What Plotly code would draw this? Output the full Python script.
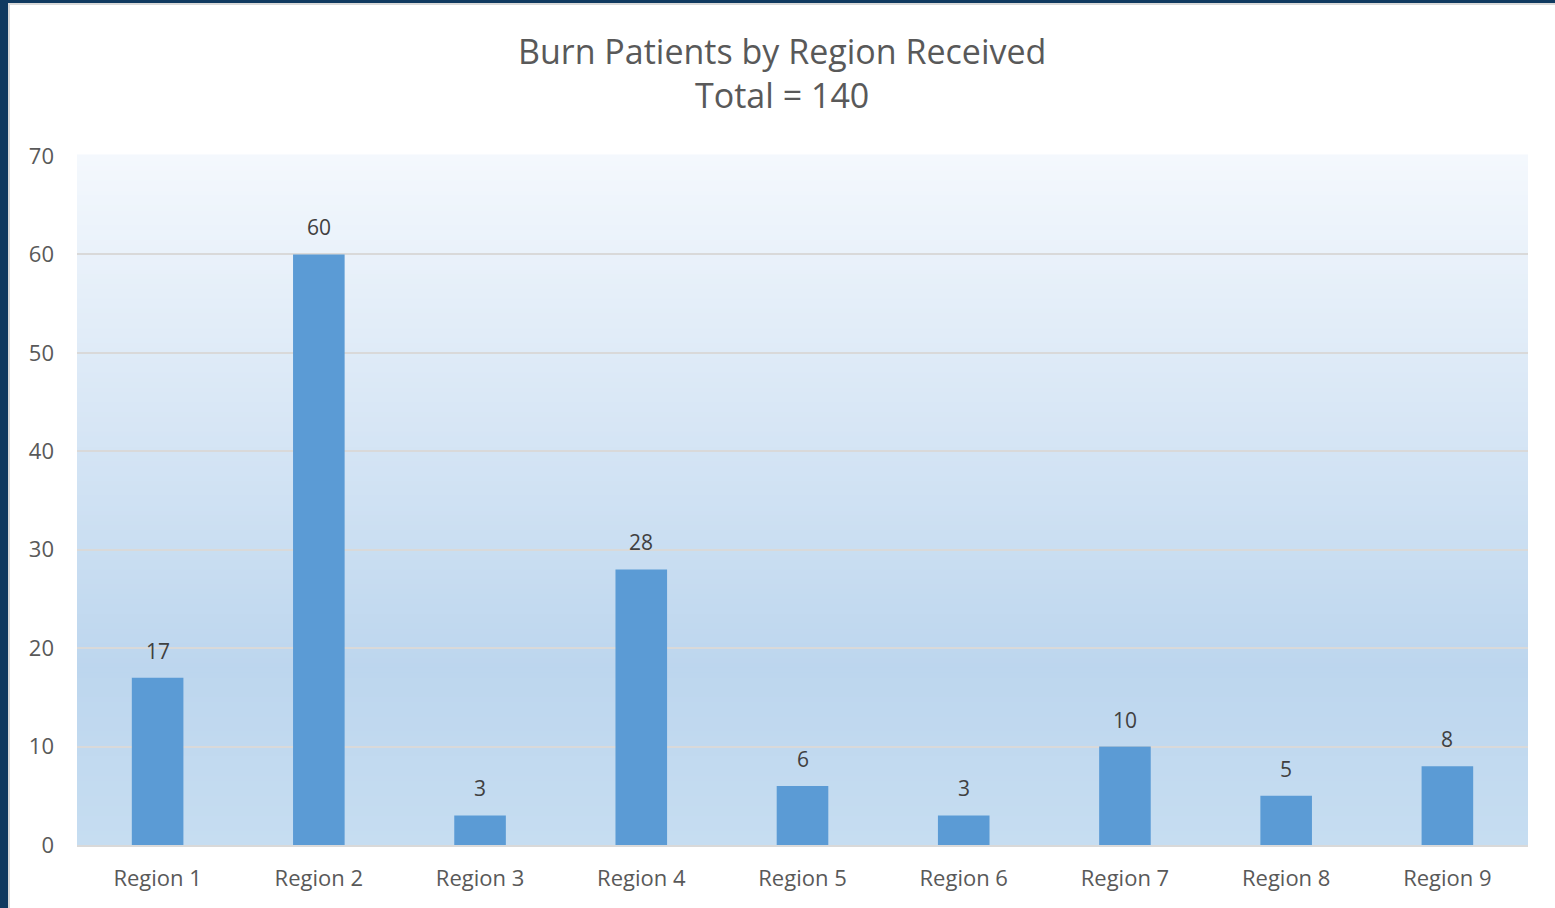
import plotly.graph_objects as go

categories = ["Region 1", "Region 2", "Region 3", "Region 4", "Region 5",
              "Region 6", "Region 7", "Region 8", "Region 9"]
patients = [17, 60, 3, 28, 6, 3, 10, 5, 8]
y_ticks = [0, 10, 20, 30, 40, 50, 60, 70]

W, H = 1555, 908
L, R, T, B = 77, 27, 156, 63
pw, ph = W - L - R, H - T - B

FONT = "Open Sans"
TXT = "#595959"

fig = go.Figure(go.Bar(
    x=categories, y=patients,
    marker=dict(color="#5b9bd5", line=dict(width=0)),
    width=0.32,
    hoverinfo="x+y",
))

# data labels placed through the axes
for cat, val in zip(categories, patients):
    fig.add_annotation(x=cat, y=val, text=str(val), showarrow=False,
                       yanchor="middle", yshift=27,
                       font=dict(family=FONT, size=21, color="#404040"))

shapes = []
# gradient background (stops measured from top of plot area)
stops = [(0.0, (244, 248, 253)), (0.74, (189, 214, 238)), (1.0, (198, 221, 241))]

def grad(f):
    for (f0, c0), (f1, c1) in zip(stops[:-1], stops[1:]):
        if f <= f1:
            t = (f - f0) / (f1 - f0)
            return tuple(round(c0[k] + (c1[k] - c0[k]) * t) for k in range(3))
    return stops[-1][1]

N = 140
for i in range(N):
    f_top = 1 - (i + 0.5) / N
    c = grad(f_top)
    shapes.append(dict(type="rect", xref="x domain", yref="y domain",
                       x0=0, x1=1, y0=i / N, y1=(i + 1) / N + 0.002,
                       fillcolor="rgb(%d,%d,%d)" % c, line=dict(width=0),
                       layer="below"))

def px_x(p):
    return (p - L) / pw

def px_y(p):
    return (H - B - p) / ph

# navy frame (left and top)
shapes.append(dict(type="rect", xref="paper", yref="paper",
                   x0=px_x(0), x1=px_x(8), y0=px_y(H), y1=px_y(0),
                   fillcolor="#103a60", line=dict(width=0), layer="above"))
shapes.append(dict(type="rect", xref="paper", yref="paper",
                   x0=px_x(0), x1=px_x(W), y0=px_y(3), y1=px_y(0),
                   fillcolor="#103a60", line=dict(width=0), layer="above"))
# light grey inner edge
shapes.append(dict(type="rect", xref="paper", yref="paper",
                   x0=px_x(8), x1=px_x(10), y0=px_y(H), y1=px_y(3),
                   fillcolor="#d9d9d9", line=dict(width=0), layer="above"))
shapes.append(dict(type="rect", xref="paper", yref="paper",
                   x0=px_x(8), x1=px_x(W), y0=px_y(5), y1=px_y(3),
                   fillcolor="#d9d9d9", line=dict(width=0), layer="above"))

fig.update_layout(
    width=W, height=H,
    margin=dict(l=L, r=R, t=T, b=B),
    paper_bgcolor="white",
    plot_bgcolor="rgba(0,0,0,0)",
    showlegend=False,
    title=dict(text="Burn Patients by Region Received<br>Total = 140",
               x=0.503, xanchor="center", y=1 - 64 / H, yanchor="middle",
               font=dict(family=FONT, size=34, color=TXT)),
    font=dict(family=FONT, color=TXT),
    shapes=shapes,
)
fig.update_xaxes(
    showgrid=False, showline=True, linecolor="#d9d9d9", linewidth=2,
    ticks="", tickfont=dict(family=FONT, size=22, color=TXT),
    ticklabelstandoff=13,
)
fig.update_yaxes(
    range=[0, 70], tickvals=y_ticks, showgrid=True, gridcolor="#d9d9d9",
    gridwidth=2, zeroline=False, showline=False, ticks="",
    tickfont=dict(family=FONT, size=22, color=TXT),
    ticklabelstandoff=22,
)

fig.write_html("out.html", config={"displayModeBar": False},
               post_script="document.body.style.margin='0';")
